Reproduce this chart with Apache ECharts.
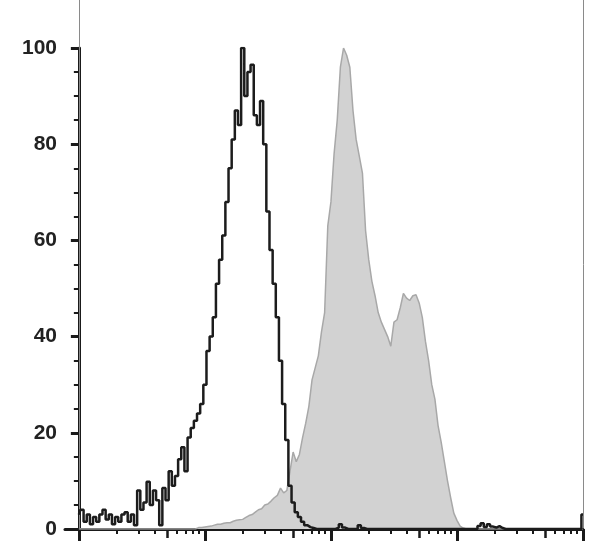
<!DOCTYPE html>
<html>
<head>
<meta charset="utf-8">
<script src="https://cdn.jsdelivr.net/npm/echarts@6/dist/echarts.min.js"></script>
<style>html,body{margin:0;padding:0;background:#fff}#c{width:608px;height:545px}</style>
</head>
<body>
<div id="c"></div>
<script>
// bins on a log10 intensity scale: bin i sits at binStart + i*binStep (decades)
var binStart = 0;
var binStep = 0.025;

// unstained / isotype control (black line), % of max
var controlCounts = [
  3,4,1.5,3,1,2.5,1.5,3,4,2,
  3,1,2.5,1.5,3,3.5,1.5,3,0.8,8,
  4,5.5,9.8,5,8,6,0.8,8.5,6,12,
  9,11,14.5,17,12,19,21,22.5,24,26,
  30,37,40,44,51,56,61,68,75,81,
  87,84,100,90,95,96.5,86,84,89,80,
  66,58,51,44,35,26,18.5,9,5.5,3.5,
  2.5,1.5,0.8,0.4,0.2,0,0,0,0,0,
  0,0,0.3,1,0.3,0,0,0,0,0.8,
  0.2,0,0,0,0,0,0,0,0,0,
  0,0,0,0,0,0,0,0,0,0,
  0,0,0,0,0,0,0,0,0,0,
  0,0,0,0,0,0,0,0.6,1.2,0.4,
  1,0.5,0.3,0.6,0.2,0,0,0,0,0,
  0,0,0,0,0,0,0,0,0,0,
  0,0,0,0,0,0,0,0,0,0,
  3
];

// stained sample (grey filled), % of max
var stainedCounts = [
  0,0,0,0,0,0,0,0,0,0,
  0,0,0,0,0,0,0,0,0,0,
  0,0,0,0,0,0,0,0,0,0,
  0,0,0,0,0,0,0,0,0.3,0.3,
  0.4,0.5,0.6,0.8,1,1,1.2,1.3,1.3,1.6,
  1.8,1.9,2,2.4,2.8,3,3.5,4,4.2,5,
  5.2,5.8,6.5,7,8.5,7.5,8,12,16,14,
  15.5,19,22,25.5,31,33.5,36,41,45,63,
  68,78,85,96,100,98.5,96,87,81,77.5,
  74,62,56,51.5,48.5,45,43,41.5,40,38,
  43,43.5,46,49,48,47.5,48.5,48.7,47,44,
  39,35,30,27,21.5,18,14,10,6.5,3.3,
  1.8,0.6,0.2,0,0,0,0,0,0,0,
  0,0,0,0,0,0,0,0,0,0,
  0,0,0,0,0,0,0,0,0,0,
  0,0,0,0,0,0,0,0,0,0,
  0
];

var yTicks = [0, 20, 40, 60, 80, 100];
var xDecades = [0, 1, 2, 3, 4];
var xMinorMultipliers = [2, 3, 4, 6, 7, 8, 9];
var xMidMultipliers = [5];

function toPairs(arr) {
  return arr.map(function (v, i) { return [binStart + i * binStep, v]; });
}
function logTicks(mults) {
  var out = [];
  for (var d = 0; d < xDecades.length - 1; d++) {
    mults.forEach(function (m) { out.push(xDecades[d] + Math.log10(m)); });
  }
  return out;
}

var xMin = -0.11, xMax = 4;
function xAxisBase(extra) {
  var a = {
    type: 'value', min: xMin, max: xMax, position: 'bottom', gridIndex: 0,
    axisLabel: { show: false }, splitLine: { show: false },
    axisLine: { show: false, onZero: true }
  };
  for (var k in extra) a[k] = extra[k];
  return a;
}

var chart = echarts.init(document.getElementById('c'), null, { renderer: 'canvas' });
chart.setOption({
  animation: false,
  backgroundColor: '#ffffff',
  grid: [
    { left: 65, right: 25, top: 48, bottom: 16, containLabel: false, outerBoundsMode: 'none' },
    { left: 79, right: 25, top: 0, bottom: 16, containLabel: false, outerBoundsMode: 'none' }
  ],
  xAxis: [
    xAxisBase({
      axisLine: { show: true, onZero: true, lineStyle: { color: '#1a1a1a', width: 3 } },
      axisTick: { show: true, customValues: xDecades, length: 12, lineStyle: { color: '#1a1a1a', width: 3 } }
    }),
    xAxisBase({
      axisTick: { show: true, customValues: logTicks(xMinorMultipliers), length: 5, lineStyle: { color: '#1a1a1a', width: 2 } }
    }),
    xAxisBase({
      axisTick: { show: true, customValues: logTicks(xMidMultipliers), length: 9, lineStyle: { color: '#1a1a1a', width: 2.5 } }
    }),
    { type: 'value', gridIndex: 1, min: 0, max: 1, show: false }
  ],
  yAxis: [{
    type: 'value', gridIndex: 0, min: 0, max: 100, interval: 20,
    axisLine: { show: true, onZero: true, lineStyle: { color: '#1a1a1a', width: 3 } },
    axisTick: { show: true, length: 8, lineStyle: { color: '#1a1a1a', width: 3 } },
    minorTick: { show: true, splitNumber: 4, length: 5, lineStyle: { color: '#1a1a1a', width: 2 } },
    splitLine: { show: false },
    axisLabel: {
      margin: 8, color: '#222',
      fontFamily: '"Liberation Sans", Arial, sans-serif',
      fontSize: 21, fontWeight: 'bold',
      customValues: yTicks
    }
  }, {
    type: 'value', gridIndex: 1, min: 0, max: 1, position: 'left',
    axisLine: { show: true, onZero: false, lineStyle: { color: '#8a8a8a', width: 1 } },
    axisTick: { show: false }, axisLabel: { show: false }, splitLine: { show: false }
  }, {
    type: 'value', gridIndex: 1, min: 0, max: 1, position: 'right',
    axisLine: { show: true, onZero: false, lineStyle: { color: '#8a8a8a', width: 1 } },
    axisTick: { show: false }, axisLabel: { show: false }, splitLine: { show: false }
  }],
  series: [{
    type: 'line', xAxisIndex: 0, yAxisIndex: 0,
    data: toPairs(stainedCounts),
    symbol: 'none',
    lineStyle: { color: '#a8a8a8', width: 1.5 },
    areaStyle: { color: '#d2d2d2', opacity: 1 },
    z: 2
  }, {
    type: 'line', xAxisIndex: 0, yAxisIndex: 0,
    data: toPairs(controlCounts),
    symbol: 'none', step: 'middle',
    lineStyle: { color: '#1c1c1c', width: 2.5 },
    z: 3
  }]
});
</script>
</body>
</html>
